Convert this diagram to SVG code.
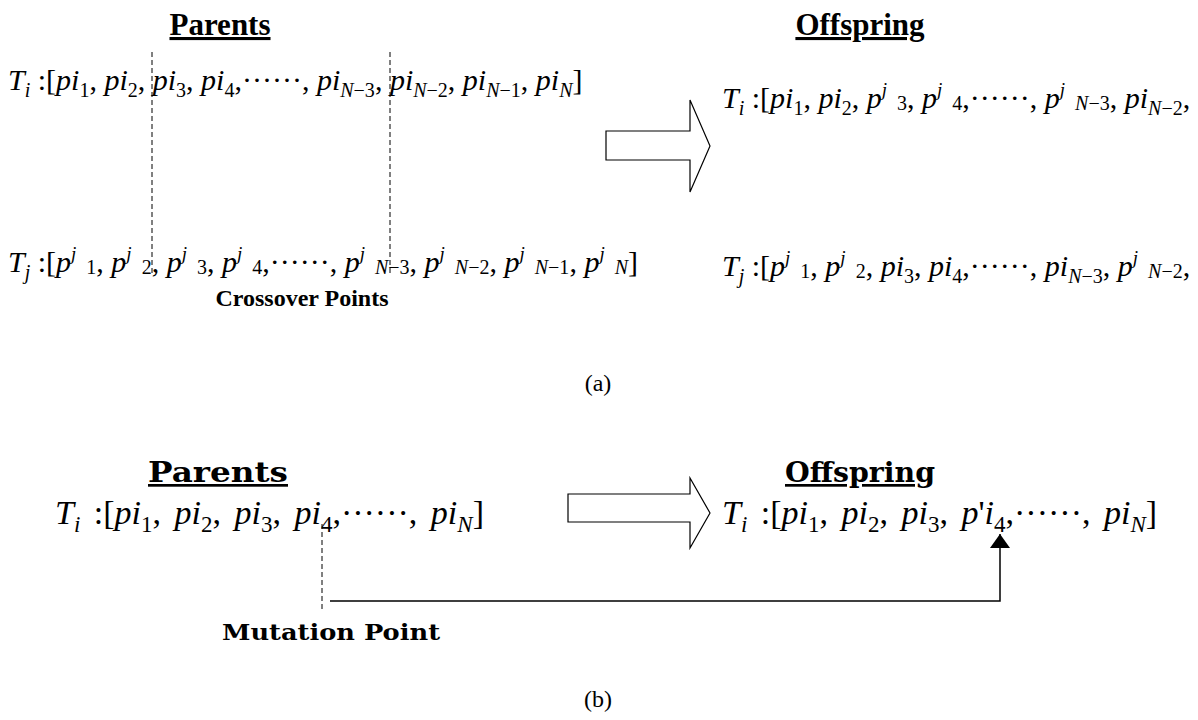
<svg xmlns="http://www.w3.org/2000/svg" width="1198" height="720" viewBox="0 0 1198 720">
  <style>
    .m { font-family: "Liberation Serif", "Times New Roman", serif; font-size: 30px; fill: #000; }
    .mb { font-family: "Liberation Serif", "Times New Roman", serif; font-size: 34px; word-spacing: 5px; fill: #000; }
    .it { font-style: italic; }
    .s { font-size: 20px; }
    .sb { font-size: 23px; }
    .sj { font-size: 19px; font-style: italic; }
    .h1 { font-family: "Liberation Serif", "Times New Roman", serif; font-weight: bold; font-size: 31px; text-decoration: underline; fill: #000; }
    .h2 { font-family: "DejaVu Serif", "Liberation Serif", serif; font-weight: bold; font-size: 27px; text-decoration: underline; fill: #000; }
    .lbl { font-family: "Liberation Serif", "Times New Roman", serif; font-weight: bold; font-size: 24px; fill: #000; }
    .lbl2 { font-family: "DejaVu Serif", "Liberation Serif", serif; font-weight: bold; font-size: 23px; fill: #000; }
    .cap { font-family: "Liberation Serif", "Times New Roman", serif; font-size: 24px; fill: #000; }
    .cut { stroke: #000; stroke-width: 1; stroke-dasharray: 5 3; fill: none; }
    .big { fill: #fff; stroke: #000; stroke-width: 1.2; }
    .wire { stroke: #000; stroke-width: 1.5; fill: none; }
  </style>
  <defs>
    <marker id="tip" viewBox="0 0 14 20" refX="14" refY="10" markerWidth="14" markerHeight="20" markerUnits="userSpaceOnUse" orient="auto">
      <path d="M0,0 L14,10 L0,20 Z" fill="#000"/>
    </marker>
  </defs>

  <rect width="1198" height="720" fill="#fff"/>

  <!-- (a) crossover -->
  <g id="crossover-parents">
    <text class="h1" x="220" y="35" text-anchor="middle">Parents</text>
    <text class="m" x="8" y="90"><tspan class="it">T</tspan><tspan class="s it" dy="7">i</tspan><tspan dy="-7"> :[</tspan><tspan class="it">pi</tspan><tspan class="s" dy="7">1</tspan><tspan dy="-7">, </tspan><tspan class="it">pi</tspan><tspan class="s" dy="7">2</tspan><tspan dy="-7">, </tspan><tspan class="it">pi</tspan><tspan class="s" dy="7">3</tspan><tspan dy="-7">, </tspan><tspan class="it">pi</tspan><tspan class="s" dy="7">4</tspan><tspan dy="-7">,······, </tspan><tspan class="it">pi</tspan><tspan class="s" dy="7"><tspan class="it">N</tspan>−3</tspan><tspan dy="-7">, </tspan><tspan class="it">pi</tspan><tspan class="s" dy="7"><tspan class="it">N</tspan>−2</tspan><tspan dy="-7">, </tspan><tspan class="it">pi</tspan><tspan class="s" dy="7"><tspan class="it">N</tspan>−1</tspan><tspan dy="-7">, </tspan><tspan class="it">pi</tspan><tspan class="s it" dy="7">N</tspan><tspan dy="-7">]</tspan></text>
    <text class="m" x="8" y="272"><tspan class="it">T</tspan><tspan class="s it" dy="7">j</tspan><tspan dy="-7"> :[</tspan><tspan class="it">p</tspan><tspan class="sj" dy="-12">j</tspan><tspan class="s" dx="10" dy="14">1</tspan><tspan dy="-2">, </tspan><tspan class="it">p</tspan><tspan class="sj" dy="-12">j</tspan><tspan class="s" dx="10" dy="14">2</tspan><tspan dy="-2">, </tspan><tspan class="it">p</tspan><tspan class="sj" dy="-12">j</tspan><tspan class="s" dx="10" dy="14">3</tspan><tspan dy="-2">, </tspan><tspan class="it">p</tspan><tspan class="sj" dy="-12">j</tspan><tspan class="s" dx="10" dy="14">4</tspan><tspan dy="-2">,······, </tspan><tspan class="it">p</tspan><tspan class="sj" dy="-12">j</tspan><tspan class="s" dx="10" dy="14"><tspan class="it">N</tspan>−3</tspan><tspan dy="-2">, </tspan><tspan class="it">p</tspan><tspan class="sj" dy="-12">j</tspan><tspan class="s" dx="10" dy="14"><tspan class="it">N</tspan>−2</tspan><tspan dy="-2">, </tspan><tspan class="it">p</tspan><tspan class="sj" dy="-12">j</tspan><tspan class="s" dx="10" dy="14"><tspan class="it">N</tspan>−1</tspan><tspan dy="-2">, </tspan><tspan class="it">p</tspan><tspan class="sj" dy="-12">j</tspan><tspan class="s it" dx="10" dy="14">N</tspan><tspan dy="-2">]</tspan></text>
    <text class="lbl" x="302" y="306" text-anchor="middle">Crossover Points</text>
  </g>

  <g id="crossover-offspring">
    <text class="h1" x="860" y="35" text-anchor="middle">Offspring</text>
    <text class="m" x="722" y="108"><tspan class="it">T</tspan><tspan class="s it" dy="7">i</tspan><tspan dy="-7"> :[</tspan><tspan class="it">pi</tspan><tspan class="s" dy="7">1</tspan><tspan dy="-7">, </tspan><tspan class="it">pi</tspan><tspan class="s" dy="7">2</tspan><tspan dy="-7">, </tspan><tspan class="it">p</tspan><tspan class="sj" dy="-12">j</tspan><tspan class="s" dx="10" dy="14">3</tspan><tspan dy="-2">, </tspan><tspan class="it">p</tspan><tspan class="sj" dy="-12">j</tspan><tspan class="s" dx="10" dy="14">4</tspan><tspan dy="-2">,······, </tspan><tspan class="it">p</tspan><tspan class="sj" dy="-12">j</tspan><tspan class="s" dx="10" dy="14"><tspan class="it">N</tspan>−3</tspan><tspan dy="-2">, </tspan><tspan class="it">pi</tspan><tspan class="s" dy="7"><tspan class="it">N</tspan>−2</tspan><tspan dy="-7">,</tspan></text>
    <text class="m" x="722" y="276"><tspan class="it">T</tspan><tspan class="s it" dy="7">j</tspan><tspan dy="-7"> :[</tspan><tspan class="it">p</tspan><tspan class="sj" dy="-12">j</tspan><tspan class="s" dx="10" dy="14">1</tspan><tspan dy="-2">, </tspan><tspan class="it">p</tspan><tspan class="sj" dy="-12">j</tspan><tspan class="s" dx="10" dy="14">2</tspan><tspan dy="-2">, </tspan><tspan class="it">pi</tspan><tspan class="s" dy="7">3</tspan><tspan dy="-7">, </tspan><tspan class="it">pi</tspan><tspan class="s" dy="7">4</tspan><tspan dy="-7">,······, </tspan><tspan class="it">pi</tspan><tspan class="s" dy="7"><tspan class="it">N</tspan>−3</tspan><tspan dy="-7">, </tspan><tspan class="it">p</tspan><tspan class="sj" dy="-12">j</tspan><tspan class="s" dx="10" dy="14"><tspan class="it">N</tspan>−2</tspan><tspan dy="-2">,</tspan></text>
  </g>

  <g id="crossover-arrow">
    <polygon class="big" points="606,131 690,131 690,100 710,146 690,192 690,160 606,160"/>
  </g>

  <text class="cap" x="598" y="391" text-anchor="middle">(a)</text>

  <!-- (b) mutation -->
  <g id="mutation-parent">
    <text class="h2" x="218" y="482" text-anchor="middle" textLength="140" lengthAdjust="spacingAndGlyphs">Parents</text>
    <text class="mb" x="55" y="524"><tspan class="it">T</tspan><tspan class="sb it" dy="8">i</tspan><tspan dy="-8"> :[</tspan><tspan class="it">pi</tspan><tspan class="sb" dy="8">1</tspan><tspan dy="-8">, </tspan><tspan class="it">pi</tspan><tspan class="sb" dy="8">2</tspan><tspan dy="-8">, </tspan><tspan class="it">pi</tspan><tspan class="sb" dy="8">3</tspan><tspan dy="-8">, </tspan><tspan class="it">pi</tspan><tspan class="sb" dy="8">4</tspan><tspan dy="-8">,······, </tspan><tspan class="it">pi</tspan><tspan class="sb it" dy="8">N</tspan><tspan dy="-8">]</tspan></text>
    <text class="lbl2" x="331" y="640" text-anchor="middle" textLength="218" lengthAdjust="spacingAndGlyphs">Mutation Point</text>
  </g>

  <g id="mutation-offspring">
    <text class="h2" x="860" y="482" text-anchor="middle" textLength="150" lengthAdjust="spacingAndGlyphs">Offspring</text>
    <text class="mb" x="722" y="524"><tspan class="it">T</tspan><tspan class="sb it" dy="8">i</tspan><tspan dy="-8"> :[</tspan><tspan class="it">pi</tspan><tspan class="sb" dy="8">1</tspan><tspan dy="-8">, </tspan><tspan class="it">pi</tspan><tspan class="sb" dy="8">2</tspan><tspan dy="-8">, </tspan><tspan class="it">pi</tspan><tspan class="sb" dy="8">3</tspan><tspan dy="-8">, </tspan><tspan class="it">p</tspan><tspan>'</tspan><tspan class="it">i</tspan><tspan class="sb" dy="8">4</tspan><tspan dy="-8">,······, </tspan><tspan class="it">pi</tspan><tspan class="sb it" dy="8">N</tspan><tspan dy="-8">]</tspan></text>
  </g>

  <g id="mutation-arrow">
    <polygon class="big" points="568,494 690,494 690,478 710,513 690,548 690,522 568,522"/>
  </g>

  <text class="cap" x="598" y="707" text-anchor="middle">(b)</text>

  <!-- cut points and the mutation link -->
  <g id="connectors">
    <line class="cut" x1="152" y1="52" x2="152" y2="276"/>
    <line class="cut" x1="390" y1="52" x2="390" y2="276"/>
    <line class="cut" x1="322" y1="524" x2="322" y2="612"/>
    <path class="wire" d="M330,601 H1000 V534" marker-end="url(#tip)"/>
  </g>
</svg>
